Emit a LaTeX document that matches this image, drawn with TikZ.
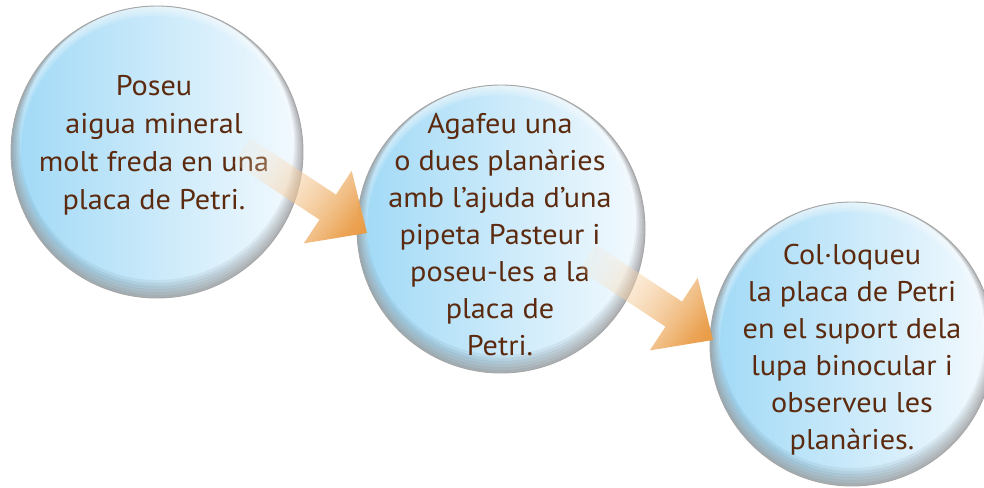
\documentclass[tikz,border=0pt]{standalone}
\usepackage{fontspec}
\setmainfont{PT Sans}[FakeStretch=1.06]
\usetikzlibrary{fadings}
\definecolor{bubbleL}{RGB}{160,217,246}
\definecolor{bubbleR}{RGB}{244,250,254}
\definecolor{arrowOrange}{RGB}{226,128,22}
\definecolor{arrowPale}{RGB}{251,228,198}
\definecolor{txt}{RGB}{92,42,14}
\pgfdeclarehorizontalshading{arrowshade}{100bp}{color(0bp)=(arrowPale); color(30bp)=(arrowPale); color(100bp)=(arrowOrange)}
\tikzfading[name=arrowfade, left color=transparent!80, right color=transparent!0]
\tikzset{
  bubble/.style={circle, inner sep=0pt, minimum size=#1, left color=bubbleL, right color=bubbleR,
    draw=black!35, line width=0.9pt,
    path picture={
      \foreach \d in {2,4,6,8,10}
        \draw[white, opacity=0.15, line width=\d*2pt] (path picture bounding box.center) circle (#1/2);
      \foreach \s in {1.5,3,...,9}
        \draw[black, opacity=0.05, line width=\s*2pt] ([yshift=\s pt]path picture bounding box.center) circle (#1/2);
    }},
  steptext/.style={text=txt, align=center, inner sep=0pt, font=\fontsize{28.5}{37}\selectfont},
  blockarrow/.style={shading=arrowshade, shading angle=-33.4, path fading=arrowfade, fading angle=-33.4},
  pics/blockarr/.style={code={
    \shade[blockarrow] (-133.5,-70.1) -- (-116.9,-95.1) -- (-31,-38.4) -- (-15.3,-62.2) -- (0,0)
      -- (-63.2,10.4) -- (-47.5,-13.3) -- cycle;}}
}
\begin{document}
\begin{tikzpicture}[x=1pt,y=-1pt]
\useasboundingbox (0,0) rectangle (984,487);
\node[bubble=292pt] (c1) at (157,152) {};
\node[bubble=288pt] (c2) at (501,229) {};
\node[bubble=284pt] (c3) at (852,344) {};
\node[steptext, font=\fontsize{28.5}{37.8}\selectfont] (t1) at (154,145.2) {Poseu\\aigua mineral\\molt freda en una\\placa de Petri.};
\node[steptext] (t2) at (500,234.2) {Agafeu una\\o dues planàries\\amb l’ajuda d’una\\pipeta Pasteur i\\poseu-les a la\\placa de\\Petri.};
\node[steptext] (t3) at (852,349.2) {Col·loqueu\\la placa de Petri\\en el suport dela\\lupa binocular i\\observeu les\\planàries.};
\coordinate (a1) at (367,233);
\coordinate (a2) at (713,340);
\pic at (a1) {blockarr};
\pic at (a2) {blockarr};
\end{tikzpicture}
\end{document}
